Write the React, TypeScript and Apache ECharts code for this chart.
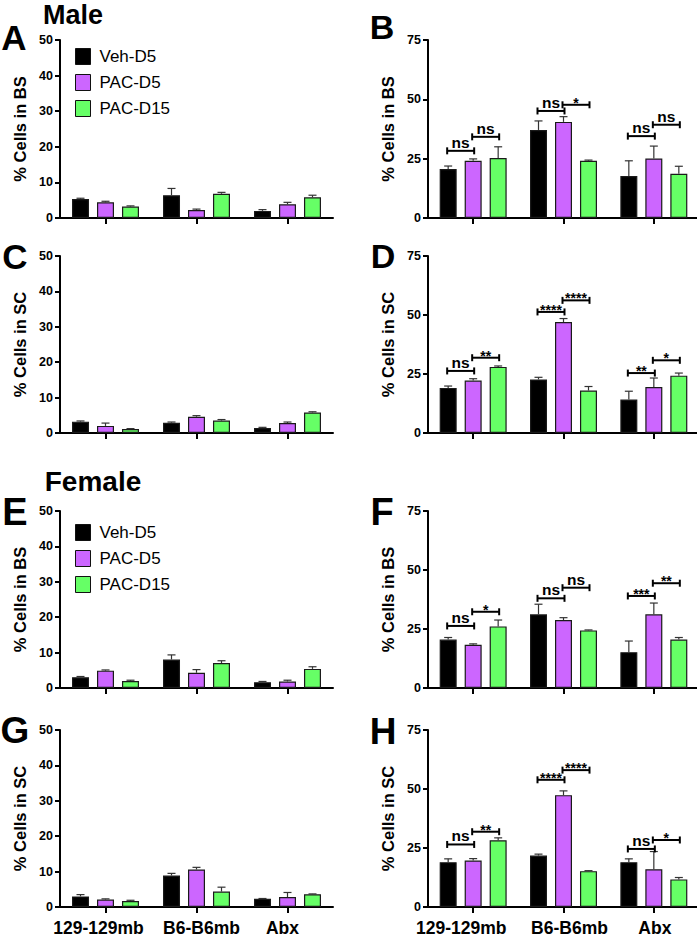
import React, { useEffect, useRef } from 'react';
import * as echarts from 'echarts';

// ---------- data ----------
const categories = ['129-129mb', 'B6-B6mb', 'Abx'];
const groupNames = ['Veh-D5', 'PAC-D5', 'PAC-D15'];
const groupColors = ['#000000', '#CC66FF', '#66FF66'];

// rows: Veh-D5, PAC-D5, PAC-D15 ; columns follow categories
// Male, BS (low range)
const panelAMean = [[5.35, 6.4, 2.0], [4.4, 2.25, 3.85], [3.2, 6.8, 5.8]];
const panelAErr = [[0.2, 1.9, 0.35], [0.3, 0.25, 0.55], [0.2, 0.4, 0.6]];
// Male, BS
const panelBMean = [[20.6, 37.1, 17.7], [24.1, 40.5, 25.1], [25.3, 24.1, 18.6]];
const panelBErr = [[1.3, 3.8, 6.4], [0.8, 2.2, 5.2], [4.7, 0.3, 3.2]];
// Male, SC (low range)
const panelCMean = [[3.2, 2.9, 1.4], [2.0, 4.6, 2.8], [1.1, 3.5, 5.8]];
const panelCErr = [[0.2, 0.2, 0.2], [0.8, 0.3, 0.3], [0.15, 0.3, 0.2]];
// Male, SC
const panelDMean = [[19.1, 22.7, 14.2], [22.2, 47.0, 19.5], [28.0, 18.0, 24.3]];
const panelDErr = [[0.8, 0.9, 3.5], [0.8, 1.5, 3.8], [0.4, 1.7, 1.1]];
// Female, BS (low range)
const panelEMean = [[3.05, 8.05, 1.65], [4.9, 4.3, 1.85], [1.95, 7.05, 5.4]];
const panelEErr = [[0.2, 1.3, 0.2], [0.2, 0.9, 0.35], [0.25, 0.65, 0.6]];
// Female, BS
const panelFMean = [[20.5, 31.2, 15.2], [18.3, 28.8, 31.2], [26.1, 24.4, 20.5]];
const panelFErr = [[0.9, 4.3, 4.7], [0.4, 1.0, 4.8], [2.7, 0.2, 0.9]];
// Female, SC (low range)
const panelGMean = [[3.0, 8.9, 2.3], [2.1, 10.6, 2.8], [1.7, 4.35, 3.6]];
const panelGErr = [[0.5, 0.6, 0.1], [0.2, 0.6, 1.3], [0.2, 1.25, 0.1]];
// Female, SC
const panelHMean = [[19.0, 21.8, 19.0], [19.7, 47.4, 16.0], [28.3, 15.2, 11.7]];
const panelHErr = [[1.4, 0.6, 1.4], [0.8, 1.8, 7.5], [1.0, 0.2, 0.8]];

// significance brackets: [category, fromGroup, toGroup, level]
const panelBBrackets = [[0, 0, 1, 28.3], [0, 1, 2, 34.2], [1, 0, 1, 45.1], [1, 1, 2, 47.7], [2, 0, 1, 34.5], [2, 1, 2, 39.3]];
const panelBMarks = ['ns', 'ns', 'ns', '*', 'ns', 'ns'];
const panelDBrackets = [[0, 0, 1, 26.3], [0, 1, 2, 31.9], [1, 0, 1, 51.3], [1, 1, 2, 56.2], [2, 0, 1, 25.4], [2, 1, 2, 30.8]];
const panelDMarks = ['ns', '**', '****', '****', '**', '*'];
const panelFBrackets = [[0, 0, 1, 26.3], [0, 1, 2, 32.3], [1, 0, 1, 38.0], [1, 1, 2, 42.5], [2, 0, 1, 39.0], [2, 1, 2, 44.4]];
const panelFMarks = ['ns', '*', 'ns', 'ns', '***', '**'];
const panelHBrackets = [[0, 0, 1, 26.5], [0, 1, 2, 31.9], [1, 0, 1, 53.9], [1, 1, 2, 58.0], [2, 0, 1, 24.6], [2, 1, 2, 28.4]];
const panelHMarks = ['ns', '**', '****', '****', 'ns', '*'];

const lowTicks = { max: 50, interval: 10 };
const highTicks = { max: 75, interval: 25 };

// ---------- layout ----------
const FONT = '"Liberation Sans", Arial, Helvetica, sans-serif';
const BAR_W = 17;
const BAR_STEP = 25;

const panels = [
  { letter: 'A', mean: panelAMean, err: panelAErr, ticks: lowTicks, yName: '% Cells in BS', left: 60, top: 40, width: 273, height: 178, xLabels: false, shift: [0, 0, 0], brackets: null, marks: null, lx: 14, ly: 37, lsize: 35 },
  { letter: 'B', mean: panelBMean, err: panelBErr, ticks: highTicks, yName: '% Cells in BS', left: 428, top: 40, width: 271, height: 178, xLabels: false, shift: [0, 0, 0], brackets: panelBBrackets, marks: panelBMarks, lx: 382, ly: 27, lsize: 34 },
  { letter: 'C', mean: panelCMean, err: panelCErr, ticks: lowTicks, yName: '% Cells in SC', left: 60, top: 256, width: 273, height: 177, xLabels: false, shift: [0, 0, 0], brackets: null, marks: null, lx: 15, ly: 256, lsize: 35 },
  { letter: 'D', mean: panelDMean, err: panelDErr, ticks: highTicks, yName: '% Cells in SC', left: 428, top: 256, width: 271, height: 177, xLabels: false, shift: [0, 0, 0], brackets: panelDBrackets, marks: panelDMarks, lx: 383, ly: 256, lsize: 34 },
  { letter: 'E', mean: panelEMean, err: panelEErr, ticks: lowTicks, yName: '% Cells in BS', left: 60, top: 511, width: 273, height: 177, xLabels: false, shift: [0, 0, 0], brackets: null, marks: null, lx: 15, ly: 512, lsize: 38 },
  { letter: 'F', mean: panelFMean, err: panelFErr, ticks: highTicks, yName: '% Cells in BS', left: 428, top: 511, width: 271, height: 177, xLabels: false, shift: [0, 0, 0], brackets: panelFBrackets, marks: panelFMarks, lx: 382, ly: 512, lsize: 38 },
  { letter: 'G', mean: panelGMean, err: panelGErr, ticks: lowTicks, yName: '% Cells in SC', left: 60, top: 730, width: 273, height: 177, xLabels: true, shift: [-7, 5, -5], brackets: null, marks: null, lx: 15, ly: 730, lsize: 37 },
  { letter: 'H', mean: panelHMean, err: panelHErr, ticks: highTicks, yName: '% Cells in SC', left: 428, top: 730, width: 271, height: 177, xLabels: true, shift: [-12, 6, 1], brackets: panelHBrackets, marks: panelHMarks, lx: 383, ly: 731, lsize: 37 },
];

function buildOption() {
  const axisLineStyle = { color: '#000', width: 2 };
  const grid = panels.map((p) => ({
    left: p.left, top: p.top, width: p.width, height: p.height, outerBoundsMode: 'none',
  }));
  const xAxis = panels.map((p, i) => {
    const rich: any = {};
    p.shift.forEach((s, k) => {
      rich['c' + k] = {
        fontSize: 17.5, fontWeight: 'bold', color: '#000', fontFamily: FONT, lineHeight: 18,
        padding: s >= 0 ? [0, 0, 0, 2 * s] : [0, -2 * s, 0, 0],
      };
    });
    return {
      type: 'category',
      gridIndex: i,
      data: categories,
      axisLine: { show: true, lineStyle: axisLineStyle },
      axisTick: { show: true, alignWithLabel: true, length: 6, lineStyle: axisLineStyle },
      axisLabel: {
        show: p.xLabels, interval: 0, hideOverlap: false, overflow: 'none',
        fontSize: 17.5, fontWeight: 'bold', color: '#000', margin: 12, fontFamily: FONT, lineHeight: 18,
        formatter: (v: string, idx: number) => `{c${idx}|${v}}`,
        rich,
      },
      splitLine: { show: false },
    };
  });
  const yAxis = panels.map((p, i) => ({
    type: 'value',
    gridIndex: i,
    min: 0,
    max: p.ticks.max,
    interval: p.ticks.interval,
    axisLine: { show: true, lineStyle: axisLineStyle },
    axisTick: { show: true, length: 5, lineStyle: axisLineStyle },
    axisLabel: { fontSize: 12.5, fontWeight: 'bold', color: '#000', margin: 7, fontFamily: FONT },
    splitLine: { show: false },
    name: p.yName,
    nameLocation: 'middle',
    nameRotate: 90,
    nameGap: 32,
    nameTextStyle: { fontSize: 16.5, fontWeight: 'bold', color: '#000', fontFamily: FONT },
  }));

  const series: any[] = [];
  panels.forEach((p, i) => {
    groupNames.forEach((name, g) => {
      series.push({
        type: 'bar',
        name,
        xAxisIndex: i,
        yAxisIndex: i,
        data: p.mean[g],
        barWidth: BAR_W,
        barGap: '47%',
        itemStyle: { color: groupColors[g], borderColor: '#1a1a1a', borderWidth: 1.2 },
        z: 2,
      });
    });
    const errData: number[][] = [];
    for (let g = 0; g < 3; g++) {
      for (let c = 0; c < 3; c++) errData.push([c, g, p.mean[g][c], p.err[g][c]]);
    }
    series.push({
      type: 'custom',
      xAxisIndex: i,
      yAxisIndex: i,
      data: errData,
      encode: { x: 0, y: 2 },
      z: 3,
      silent: true,
      renderItem: (params: any, api: any) => {
        const c = api.value(0);
        const g = api.value(1);
        const m = api.value(2);
        const e = api.value(3);
        const base = api.coord([c, m]);
        const top = api.coord([c, m + e]);
        const x = base[0] + (g - 1) * BAR_STEP;
        const st = { stroke: '#333', lineWidth: 1.2 };
        return {
          type: 'group',
          children: [
            { type: 'line', shape: { x1: x, y1: base[1], x2: x, y2: top[1] }, style: st },
            { type: 'line', shape: { x1: x - 4, y1: top[1], x2: x + 4, y2: top[1] }, style: st },
          ],
        };
      },
    });
    if (p.brackets) {
      const marks = p.marks as string[];
      series.push({
        type: 'custom',
        xAxisIndex: i,
        yAxisIndex: i,
        data: p.brackets,
        encode: { x: 0, y: 3 },
        z: 4,
        silent: true,
        renderItem: (params: any, api: any) => {
          const c = api.value(0);
          const f = api.value(1);
          const t = api.value(2);
          const lv = api.value(3);
          const pt = api.coord([c, lv]);
          const x1 = pt[0] + (f - 1) * BAR_STEP - 1;
          const x2 = pt[0] + (t - 1) * BAR_STEP + 1;
          const y = pt[1];
          const label = marks[params.dataIndex];
          const star = label.indexOf('*') >= 0;
          const st = { stroke: '#000', lineWidth: 2 };
          return {
            type: 'group',
            children: [
              { type: 'line', shape: { x1, y1: y, x2, y2: y }, style: st },
              { type: 'line', shape: { x1, y1: y - 3.5, x2: x1, y2: y + 3.5 }, style: st },
              { type: 'line', shape: { x1: x2, y1: y - 3.5, x2, y2: y + 3.5 }, style: st },
              {
                type: 'text',
                style: {
                  text: label,
                  x: (x1 + x2) / 2,
                  y: star ? y - 2 : y - 8.5,
                  align: 'center',
                  verticalAlign: 'middle',
                  font: `bold ${star ? 14 : 15.5}px ${FONT}`,
                  fill: '#000',
                },
              },
            ],
          };
        },
      });
    }
  });

  const legendBase = {
    orient: 'vertical',
    left: 70,
    itemWidth: 15,
    itemHeight: 16,
    itemGap: 9,
    icon: 'rect',
    data: groupNames,
    selectedMode: false,
    itemStyle: { borderColor: '#111', borderWidth: 1 },
    textStyle: { fontSize: 17, color: '#000', fontFamily: FONT, lineHeight: 16, padding: [0, 0, 0, 4] },
  };

  const graphic: any[] = panels.map((p) => ({
    type: 'text',
    style: {
      text: p.letter,
      x: p.lx,
      y: p.ly,
      font: `bold ${p.lsize}px ${FONT}`,
      fill: '#000',
      align: 'center',
      verticalAlign: 'middle',
      textAlign: 'center',
      textVerticalAlign: 'middle',
    },
  }));
  graphic.push({
    type: 'text',
    style: { text: 'Male', x: 73, y: 14.5, font: `bold 27px ${FONT}`, fill: '#000', align: 'center', verticalAlign: 'middle', textAlign: 'center', textVerticalAlign: 'middle' },
  });
  graphic.push({
    type: 'text',
    style: { text: 'Female', x: 93, y: 481, font: `bold 28px ${FONT}`, fill: '#000', align: 'center', verticalAlign: 'middle', textAlign: 'center', textVerticalAlign: 'middle' },
  });

  return {
    animation: false,
    backgroundColor: '#ffffff',
    textStyle: { fontFamily: FONT },
    legend: [
      { ...legendBase, top: 43 },
      { ...legendBase, top: 519 },
    ],
    grid,
    xAxis,
    yAxis,
    series,
    graphic,
  };
}

export default function App() {
  const ref = useRef<HTMLDivElement>(null);
  useEffect(() => {
    if (!ref.current) return;
    const chart = echarts.init(ref.current, null, { renderer: 'svg' });
    chart.setOption(buildOption() as any);
    return () => chart.dispose();
  }, []);
  return (
    <div
      ref={ref}
      style={{ position: 'absolute', left: 0, top: 0, width: 697, height: 937, background: '#fff' }}
    />
  );
}
